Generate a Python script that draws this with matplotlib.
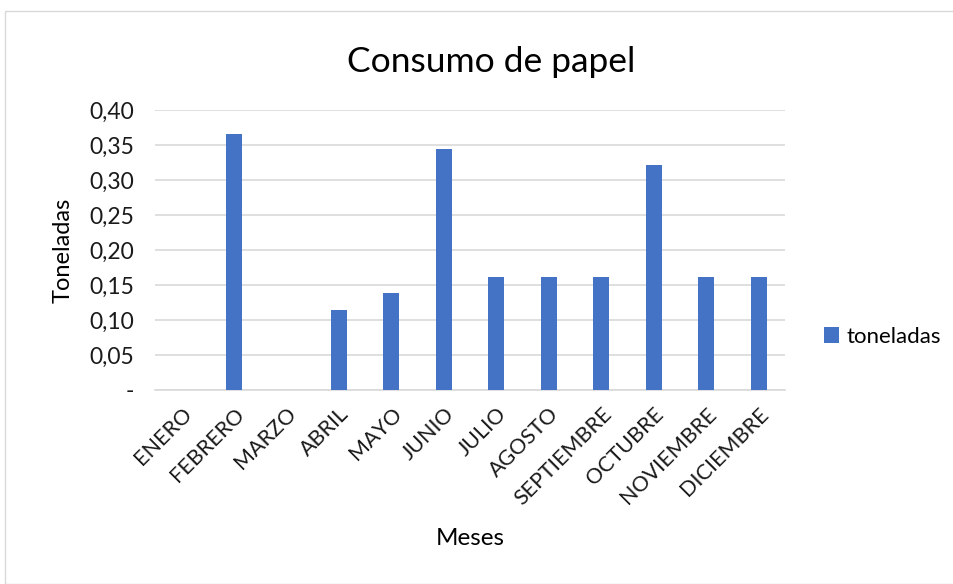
import matplotlib
matplotlib.use("Agg")
import matplotlib.pyplot as plt
from matplotlib.patches import Rectangle
from matplotlib.ticker import FuncFormatter, MultipleLocator

meses = ["ENERO", "FEBRERO", "MARZO", "ABRIL", "MAYO", "JUNIO", "JULIO",
         "AGOSTO", "SEPTIEMBRE", "OCTUBRE", "NOVIEMBRE", "DICIEMBRE"]
toneladas = [0.0, 0.366, 0.0, 0.115, 0.138, 0.345, 0.161,
             0.161, 0.161, 0.322, 0.161, 0.161]

BAR_COLOR = "#4472C4"
GRID_COLOR = "#D9D9D9"
TEXT_COLOR = "#000000"
TICK_COLOR = "#1a1a1a"

plt.rcParams["font.family"] = ["Lato", "DejaVu Sans"]

fig = plt.figure(figsize=(9.54, 5.84), dpi=100)
# chart frame
fig.patches.append(Rectangle((5 / 954, 0), 1.2, (584 - 11) / 584,
                             transform=fig.transFigure, fill=False,
                             edgecolor=GRID_COLOR, linewidth=1.0))

ax = fig.add_axes([155 / 954, (584 - 390) / 584, 630 / 954, 280 / 584])
x = range(len(meses))
ax.bar(x, toneladas, width=0.31, color=BAR_COLOR, label="toneladas", zorder=3)

ax.set_xlim(-0.5, len(meses) - 0.5)
ax.set_ylim(0, 0.40)
ax.yaxis.set_major_locator(MultipleLocator(0.05))
ax.yaxis.set_major_formatter(
    FuncFormatter(lambda v, _: "-" if abs(v) < 1e-9 else f"{v:.2f}".replace(".", ",")))
ax.grid(axis="y", color=GRID_COLOR, linewidth=1.2, zorder=0)
for side in ("top", "right", "left"):
    ax.spines[side].set_visible(False)
ax.spines["bottom"].set_color(GRID_COLOR)
ax.spines["bottom"].set_linewidth(1.2)
ax.tick_params(axis="both", length=0, labelsize=16.5, colors=TICK_COLOR)
ax.tick_params(axis="y", pad=15)

ax.set_xticks(list(x))
ax.set_xticklabels(meses, rotation=45, ha="right", rotation_mode="anchor",
                   fontsize=15.5)
ax.tick_params(axis="x", pad=10)

ax.set_title("Consumo de papel", fontsize=25.5, color=TEXT_COLOR, pad=27,
             x=0.533)
ax.set_ylabel("Toneladas", fontsize=17, color=TEXT_COLOR, labelpad=11)
ax.set_xlabel("Meses", fontsize=17.5, color=TEXT_COLOR, labelpad=14)

ax.legend(loc="center left", bbox_to_anchor=(1.03, 0.19), frameon=False,
          fontsize=16, handlelength=0.7, handleheight=0.7, handletextpad=0.3)

fig.savefig("out.png", dpi=100)
